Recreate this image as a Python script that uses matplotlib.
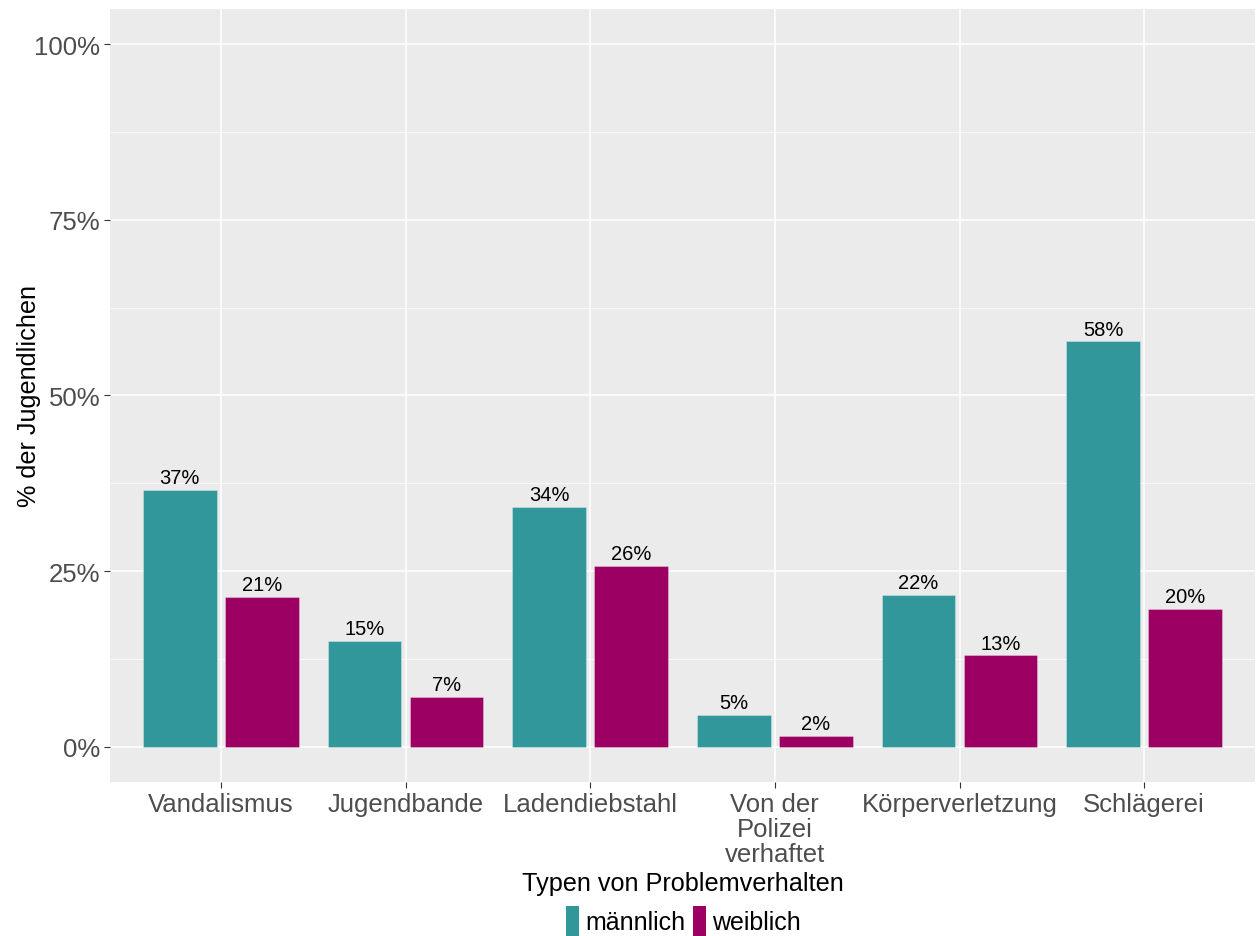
import numpy as np
import matplotlib
matplotlib.use("Agg")
import matplotlib.pyplot as plt
from matplotlib.patches import Patch
from matplotlib.ticker import MultipleLocator, FuncFormatter

plt.rcParams['font.family'] = ['Liberation Sans', 'DejaVu Sans']

# Daten
kategorien = ["Vandalismus", "Jugendbande", "Ladendiebstahl",
              "Von der\nPolizei\nverhaftet", "Körperverletzung", "Schlägerei"]
maennlich = [36.6, 15.1, 34.1, 4.6, 21.6, 57.7]
weiblich = [21.3, 7.1, 25.7, 1.6, 13.0, 19.6]
gruppen = ["männlich", "weiblich"]
farben = ["#31979B", "#9C0062"]

fig = plt.figure(figsize=(12.59, 9.37), dpi=100)
ax = fig.add_axes([0.0874, 0.1644, 0.9094, 0.8249])
ax.set_facecolor("#EBEBEB")

x = np.arange(len(kategorien))
breite = 0.40
versatz = 0.222
for werte, off, farbe in zip([maennlich, weiblich], [-versatz, versatz], farben):
    balken = ax.bar(x + off, werte, width=breite, color=farbe,
                    edgecolor=(1, 1, 1, 0.35), linewidth=0.6, zorder=3)
    for b, w in zip(balken, werte):
        ax.annotate(f"{round(w):.0f}%", (b.get_x() + b.get_width() / 2, w),
                    xytext=(0, 2), textcoords="offset points",
                    ha="center", va="bottom", fontsize=14.5, color="black", zorder=4)

ax.set_xlim(-0.6, len(kategorien) - 0.4)
ax.set_ylim(-5, 105)
ax.yaxis.set_major_locator(MultipleLocator(25))
ax.yaxis.set_minor_locator(MultipleLocator(12.5))
ax.yaxis.set_major_formatter(FuncFormatter(lambda v, p: f"{v:.0f}%"))
ax.set_xticks(x)
ax.set_xticklabels(kategorien, fontsize=18.5, color="#4D4D4D", linespacing=1.05)
ax.tick_params(axis="y", labelsize=18.5, labelcolor="#4D4D4D")
ax.tick_params(axis="both", which="major", color="#333333", length=4, width=0.8, pad=3)
ax.tick_params(axis="y", which="minor", length=0)

ax.grid(which="major", color="white", linewidth=1.1, zorder=0)
ax.grid(which="minor", axis="y", color="white", linewidth=0.5, zorder=0)
ax.set_axisbelow(True)
for s in ax.spines.values():
    s.set_visible(False)

ax.set_xlabel("Typen von Problemverhalten", fontsize=18.2, color="black", labelpad=4)
ax.set_ylabel("% der Jugendlichen", fontsize=18.2, color="black")
ax.yaxis.set_label_coords(-0.06, 0.5)

handles = [Patch(facecolor=f, edgecolor="none") for f in farben]
fig.legend(handles, gruppen, loc="center", bbox_to_anchor=(0.543, 0.016),
           ncol=2, frameon=False, fontsize=18, handlelength=0.52, handleheight=1.45,
           handletextpad=0.24, columnspacing=0.3, borderaxespad=0)

fig.savefig("out.png", dpi=100)
